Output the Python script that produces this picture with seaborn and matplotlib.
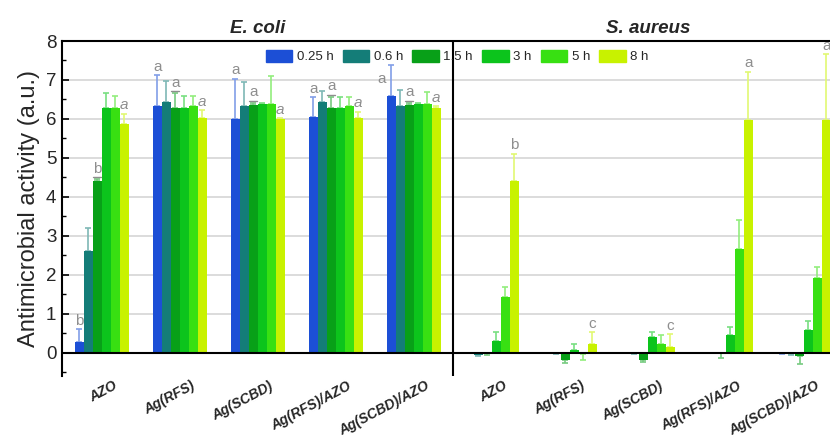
import numpy as np
import pandas as pd
import matplotlib
matplotlib.use("Agg")
import matplotlib.pyplot as plt
import matplotlib.transforms as mtransforms
from matplotlib.ticker import MultipleLocator
from matplotlib.patches import Patch
from matplotlib.colors import to_rgb
import seaborn as sns

times = ["0.25 h", "0.6 h", "1.5 h", "3 h", "5 h", "8 h"]
samples = ["AZO", "Ag(RFS)", "Ag(SCBD)", "Ag(RFS)/AZO", "Ag(SCBD)/AZO"]
bacteria = ["E. coli", "S. aureus"]

# one row per sample, one column per time point
ecoli_vals = [
    [0.28, 2.60, 4.40, 6.29, 6.29, 5.87],
    [6.34, 6.44, 6.29, 6.29, 6.32, 6.03],
    [6.00, 6.33, 6.35, 6.38, 6.38, 6.00],
    [6.04, 6.44, 6.29, 6.29, 6.32, 6.02],
    [6.59, 6.34, 6.36, 6.38, 6.38, 6.29],
]
ecoli_err = [
    [0.32, 0.60, 0.05, 0.37, 0.31, 0.26],
    [0.79, 0.54, 0.37, 0.30, 0.28, 0.19],
    [1.03, 0.63, 0.07, 0.02, 0.71, 0.02],
    [0.51, 0.28, 0.28, 0.28, 0.23, 0.17],
    [0.79, 0.39, 0.06, 0.03, 0.30, 0.03],
]
saureus_vals = [
    [-0.01, -0.06, -0.02, 0.30, 1.42, 4.41],
    [-0.01, -0.02, -0.20, 0.08, -0.03, 0.23],
    [-0.01, -0.02, -0.20, 0.39, 0.22, 0.14],
    [-0.01, -0.01, -0.02, 0.44, 2.66, 5.96],
    [-0.02, -0.04, -0.08, 0.59, 1.92, 5.96],
]
saureus_err = [
    [0.01, 0.03, 0.05, 0.22, 0.26, 0.70],
    [0.01, 0.01, 0.07, 0.15, 0.15, 0.29],
    [0.01, 0.01, 0.03, 0.13, 0.22, 0.34],
    [0.01, 0.01, 0.11, 0.23, 0.75, 1.25],
    [0.01, 0.02, 0.20, 0.21, 0.28, 1.70],
]

colors = ["#1c4fd6", "#147d78", "#08a018", "#0cc41c", "#38e012", "#c8f200"]

# significance letters: (bacterium, sample, time, letter, style)
letters = [
    (0, 0, 0, "b", "plain"), (0, 0, 2, "b", "under"), (0, 0, 5, "a", "italic"),
    (0, 1, 0, "a", "plain"), (0, 1, 2, "a", "under"), (0, 1, 5, "a", "italic"),
    (0, 2, 0, "a", "plain"), (0, 2, 2, "a", "under"), (0, 2, 5, "a", "italic"),
    (0, 3, 0, "a", "plain"), (0, 3, 2, "a", "under"), (0, 3, 5, "a", "italic"),
    (0, 4, 0, "a", "left"), (0, 4, 2, "a", "under"), (0, 4, 5, "a", "italic"),
    (1, 0, 5, "b", "plain"), (1, 1, 5, "c", "plain"), (1, 2, 5, "c", "plain"),
    (1, 3, 5, "a", "plain"), (1, 4, 5, "a", "plain"),
]

rows = []
for b, (vals, errs) in enumerate([(ecoli_vals, ecoli_err), (saureus_vals, saureus_err)]):
    for i, s in enumerate(samples):
        for j, t in enumerate(times):
            rows.append({"key": bacteria[b] + "|" + s, "time": t,
                         "value": vals[i][j], "err": errs[i][j]})
df = pd.DataFrame(rows)
keys = list(dict.fromkeys(df["key"]))


def lighter(c, f=0.45):
    r = np.array(to_rgb(c))
    return tuple(r + (1 - r) * f)


sns.set_theme(style="white")
plt.rcParams["font.family"] = ["Liberation Sans", "DejaVu Sans"]

fig = plt.figure(figsize=(8.3, 4.44), dpi=100)
ax = fig.add_axes([62 / 830, 1 - 376 / 444, 781 / 830, 335 / 444])

sns.barplot(data=df, x="key", y="value", hue="time", order=keys, hue_order=times,
            palette=colors, width=0.69, errorbar=None, saturation=1, legend=False,
            linewidth=0, ax=ax)

bar_w = 0.69 / len(times)
bar_conts = list(ax.containers)
for j, cont in enumerate(bar_conts):
    sub = df[df["time"] == times[j]].set_index("key").loc[keys]
    xs = np.array([p.get_x() + p.get_width() / 2 for p in cont.patches])
    v = sub["value"].values
    e = sub["err"].values
    lo = np.where(v < 0, e, 0)
    hi = np.where(v >= 0, e, 0)
    ax.errorbar(xs, v, yerr=[lo, hi], fmt="none", ecolor=lighter(colors[j]),
                elinewidth=1.2, capsize=2.5, capthick=1.2, zorder=0.9)

gray = "#8e8e8e"
for b, i, j, lab, style in letters:
    vals = ecoli_vals if b == 0 else saureus_vals
    errs = ecoli_err if b == 0 else saureus_err
    x = b * len(samples) + i + (j - (len(times) - 1) / 2) * bar_w
    top = vals[i][j] + errs[i][j]
    if style == "left":
        ax.text(x - 0.07, vals[i][j] + errs[i][j] * 0.55, lab, ha="right", va="center",
                color=gray, fontsize=11)
        continue
    if style == "under":
        ax.plot([x - 0.05, x + 0.05], [top + 0.05] * 2, color=gray, lw=1, zorder=4)
        top += 0.05
    ax.annotate(lab, (x, top), xytext=(0, 1), textcoords="offset points",
                ha="center", va="bottom", color=gray, fontsize=11,
                fontstyle="italic" if style == "italic" else "normal")

ax.set_xlim(-0.51, 9.5)
ax.set_ylim(-0.6, 8)
ax.set_yticks(range(9))
ax.yaxis.set_minor_locator(MultipleLocator(0.5))
ax.set_axisbelow(True)
ax.yaxis.grid(True, color="#d6d6d6", lw=1.2)
ax.xaxis.grid(False)
ax.axhline(0, color="black", lw=1.5, zorder=3)
ax.axvline(4.5, color="black", lw=1.5, zorder=3)
for side in ["right", "bottom"]:
    ax.spines[side].set_visible(False)
for side in ["top", "left"]:
    ax.spines[side].set_color("black")
    ax.spines[side].set_linewidth(1.5)

ax.tick_params(axis="y", which="major", direction="in", left=True, length=5,
               width=1.2, labelsize=13.5, color="black", pad=4)
ax.tick_params(axis="y", which="minor", direction="in", left=True, length=3,
               width=1.0, color="black")
ax.set_ylabel("Antimicrobial activity (a.u.)", fontsize=17, labelpad=4)
ax.set_xlabel("")

ax.set_xticks(range(len(keys)))
ax.set_xticklabels(samples * 2, rotation=28, ha="right", rotation_mode="anchor",
                   fontweight="bold", fontstyle="italic", fontsize=10)
ax.tick_params(axis="x", length=0, pad=2)
shift = mtransforms.ScaledTranslation(11 / 100, 0, fig.dpi_scale_trans)
for lab in ax.get_xticklabels():
    lab.set_transform(lab.get_transform() + shift)

for b, name in enumerate(bacteria):
    ax.text(b * len(samples) + 2, 8.2, name, ha="center", va="baseline",
            fontsize=13.5, fontweight="bold", fontstyle="italic")

handles = [Patch(facecolor=c, edgecolor=c) for c in colors]
fig.legend(handles, times, loc="center", bbox_to_anchor=(0.551, 0.872), ncol=6,
           frameon=False, fontsize=9.5, handlelength=2.0, handleheight=0.95,
           columnspacing=0.7, handletextpad=0.35)

fig.savefig("out.png", dpi=100)
